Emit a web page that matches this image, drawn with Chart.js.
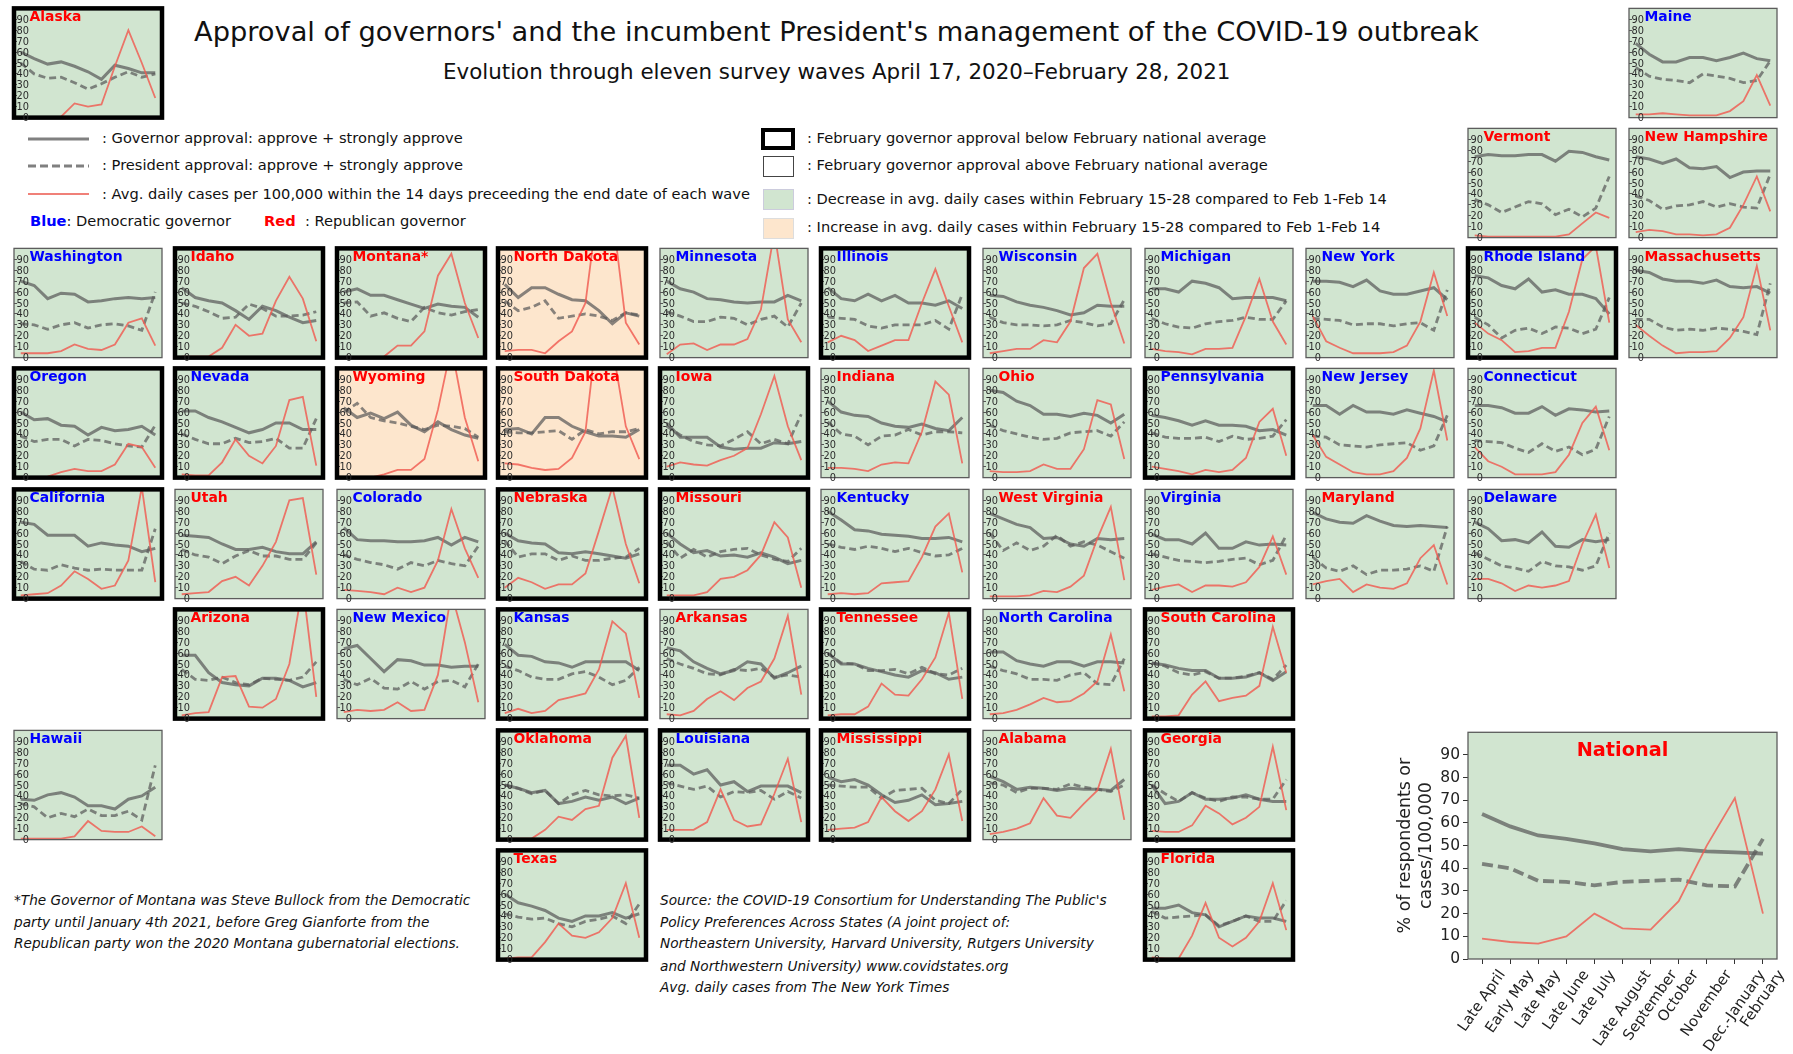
<!DOCTYPE html>
<html>
<head>
<meta charset="utf-8">
<title>Approval of governors and the President, COVID-19</title>
<script src="https://cdn.jsdelivr.net/npm/chart.js@4/dist/chart.umd.min.js"></script>
<style>
  html, body { margin: 0; padding: 0; background: #fff; }
  body { position: relative; width: 1793px; height: 1054px; overflow: hidden; font-family: "DejaVu Sans", sans-serif; color: #111; filter: blur(0.45px); }
  canvas { position: absolute; }
  .t { position: absolute; white-space: nowrap; transform: translateY(-50%); font-size: 14.63px; }
  .note { font-style: italic; font-size: 13.68px; }
  .sw { position: absolute; box-sizing: border-box; }
  svg.key { position: absolute; left: 20px; top: 130px; }
</style>
</head>
<body>
<div class="t" style="left:194px;top:31px;font-size:27.25px">Approval of governors' and the incumbent President's management of the COVID-19 outbreak</div>
<div class="t" style="left:443px;top:71px;font-size:21.4px">Evolution through eleven survey waves April 17, 2020–February 28, 2021</div>

<svg class="key" width="80" height="75">
  <line x1="8" x2="69" y1="9" y2="9" stroke="#808080" stroke-width="3"/>
  <line x1="8" x2="69" y1="36" y2="36" stroke="#808080" stroke-width="3" stroke-dasharray="8 4"/>
  <line x1="8" x2="69" y1="64" y2="64" stroke="#f08078" stroke-width="2"/>
</svg>
<div class="t" style="left:102px;top:137px">: Governor approval: approve + strongly approve</div>
<div class="t" style="left:102px;top:164px">: President approval: approve + strongly approve</div>
<div class="t" style="left:102px;top:193px">: Avg. daily cases per 100,000 within the 14 days preceeding the end date of each wave</div>
<div class="t" style="left:30px;top:220px"><b style="color:#00f">Blue</b>: Democratic governor</div>
<div class="t" style="left:264px;top:220px"><b style="color:#f00">Red</b>&nbsp; : Republican governor</div>

<div class="sw" style="left:761px;top:128px;width:34px;height:22px;border:4.5px solid #000"></div>
<div class="sw" style="left:763px;top:156px;width:31px;height:21px;border:1.3px solid #444"></div>
<div class="sw" style="left:763px;top:189px;width:31px;height:21px;background:#d1e5d0;border:1px solid #ccd"></div>
<div class="sw" style="left:763px;top:218px;width:31px;height:21px;background:#fde6cd;border:1px solid #ddd"></div>
<div class="t" style="left:807px;top:137px">: February governor approval below February national average</div>
<div class="t" style="left:807px;top:164px">: February governor approval above February national average</div>
<div class="t" style="left:807px;top:198px">: Decrease in avg. daily cases within February 15-28 compared to Feb 1-Feb 14</div>
<div class="t" style="left:807px;top:226px">: Increase in avg. daily cases within February 15-28 compared to Feb 1-Feb 14</div>

<div class="t note" style="left:14px;top:900px">*The Governor of Montana was Steve Bullock from the Democratic</div>
<div class="t note" style="left:14px;top:922px">party until January 4th 2021, before Greg Gianforte from the</div>
<div class="t note" style="left:14px;top:943px">Republican party won the 2020 Montana gubernatorial elections.</div>

<div class="t note" style="left:660px;top:900px">Source: the COVID-19 Consortium for Understanding The Public's</div>
<div class="t note" style="left:660px;top:922px">Policy Preferences Across States (A joint project of:</div>
<div class="t note" style="left:660px;top:943px">Northeastern University, Harvard University, Rutgers University</div>
<div class="t note" style="left:660px;top:966px">and Northwestern University) www.covidstates.org</div>
<div class="t note" style="left:660px;top:987px">Avg. daily cases from The New York Times</div>

<script>
// survey waves and axis ticks
const waves = ['Late April', 'Early May', 'Late May', 'Late June', 'Late July', 'Late August', 'September', 'October', 'November', 'Dec.-January', 'February'];
const yTicks = [0, 10, 20, 30, 40, 50, 60, 70, 80, 90];

const nationalGovernor = [64, 58.5, 54.5, 53, 51, 48.5, 47.5, 48.5, 47.5, 47, 46.5];
const nationalPresident = [42, 40, 34.5, 34, 32.5, 34, 34.5, 35, 32.5, 32, 53];
const nationalCases = [9, 7.5, 6.8, 10, 20, 13.5, 13, 25.5, 50, 71, 20];

const states = ['Alaska', 'Maine', 'Vermont', 'New Hampshire',
  'Washington', 'Idaho', 'Montana*', 'North Dakota', 'Minnesota', 'Illinois', 'Wisconsin', 'Michigan', 'New York', 'Rhode Island', 'Massachusetts',
  'Oregon', 'Nevada', 'Wyoming', 'South Dakota', 'Iowa', 'Indiana', 'Ohio', 'Pennsylvania', 'New Jersey', 'Connecticut',
  'California', 'Utah', 'Colorado', 'Nebraska', 'Missouri', 'Kentucky', 'West Virginia', 'Virginia', 'Maryland', 'Delaware',
  'Arizona', 'New Mexico', 'Kansas', 'Arkansas', 'Tennessee', 'North Carolina', 'South Carolina',
  'Hawaii', 'Oklahoma', 'Louisiana', 'Mississippi', 'Alabama', 'Georgia',
  'Texas', 'Florida'];

const governor = [
  [60,54,49,51,47,42,35,48,45,41,41], [68,58,51,51,55,55,52,55,59,54,52], [74,76,75,75,76,76,70,79,78,74,71], [74,72,68,72,64,63,65,55,60,61,61],
  [70,66,54,59,58,51,52,54,55,54,55], [64,55,52,50,43,35,47,43,37,32,34], [60,63,57,57,53,49,45,49,47,46,37], [67,55,64,64,58,53,52,43,31,41,38], [70,63,60,54,53,51,50,51,51,57,52], [64,54,52,58,52,57,50,50,48,52,45], [57,56,51,48,46,43,39,41,48,47,47], [63,63,60,70,68,64,54,55,55,55,52], [70,70,69,65,71,61,58,58,61,64,53], [75,73,66,63,72,60,62,58,58,54,40], [80,78,72,70,70,68,71,65,64,65,59],
  [60,53,54,48,47,39,46,43,44,47,39], [61,61,55,51,46,41,44,50,50,44,44], [64,55,59,54,60,48,42,51,44,39,36], [44,45,40,55,55,47,42,38,38,37,44], [50,37,37,37,28,26,27,27,32,31,33], [70,60,57,56,50,47,46,49,45,43,55], [80,78,70,66,58,58,56,59,57,50,58], [57,55,52,48,52,48,48,47,43,44,39], [66,66,58,66,60,60,58,62,59,56,51], [66,66,64,59,59,65,57,63,62,60,61],
  [70,68,58,58,58,48,51,49,48,43,46], [58,57,56,50,45,45,47,43,41,41,52], [65,54,53,53,52,52,53,56,49,56,52], [60,53,51,50,42,41,43,41,39,37,41], [60,50,42,44,39,40,38,42,38,32,35], [80,72,63,62,59,58,57,55,55,56,52], [78,73,68,65,55,56,50,48,55,54,55], [59,54,54,50,60,46,46,52,49,50,49], [79,73,70,69,76,71,67,66,67,66,65], [70,64,53,54,51,61,48,47,54,52,54],
  [58,58,42,33,31,30,37,37,35,29,33], [64,67,55,43,54,53,49,49,47,48,48], [68,58,57,52,51,47,52,52,52,52,44], [65,62,52,46,41,44,52,50,37,42,48], [60,50,50,46,43,40,38,44,42,36,38], [61,61,53,50,48,52,52,48,52,52,51], [51,49,46,44,44,37,37,38,42,35,43],
  [37,36,41,43,39,31,31,28,37,40,48], [50,47,43,45,33,35,39,36,39,33,38], [68,68,60,64,50,53,44,49,49,49,43], [57,53,55,50,41,34,36,41,32,33,35], [58,53,46,48,47,45,47,46,46,45,55], [50,33,35,43,37,37,38,41,37,35,35],
  [60,52,49,45,38,35,40,40,43,38,42], [47,47,50,43,41,30,35,40,38,38,35]
];

const president = [
  [50,40,36,37,32,26,31,37,42,37,40], [46,38,35,34,32,40,38,36,32,34,52], [35,30,23,28,33,31,21,26,19,27,56], [38,34,26,29,30,33,28,31,28,27,58],
  [31,30,26,30,32,27,30,31,29,25,60], [50,47,42,36,37,49,45,38,38,39,42], [50,51,38,41,36,33,46,41,39,42,44], [52,43,46,52,36,38,40,38,34,41,39], [42,38,33,33,37,36,30,35,38,28,50], [37,36,35,29,27,30,30,30,34,26,58], [37,32,30,30,29,30,34,32,29,31,53], [36,31,28,27,31,33,34,37,35,35,52], [36,35,34,30,31,31,29,31,32,25,62], [37,30,18,25,27,22,28,27,22,26,55], [35,35,28,25,26,25,27,26,24,21,68],
  [38,33,35,35,29,35,34,31,29,28,48], [40,35,31,31,36,32,33,36,27,27,54], [60,68,55,52,50,47,44,48,47,45,37], [42,41,41,42,43,35,44,40,42,42,45], [47,39,33,30,29,35,42,31,35,31,58], [51,40,38,30,38,39,44,39,42,42,41], [48,43,40,37,35,36,41,42,43,38,51], [41,37,36,36,37,33,38,35,36,38,53], [38,37,30,29,28,30,31,32,25,29,57], [34,33,32,27,23,31,24,28,21,26,56],
  [34,27,26,31,28,26,27,26,26,26,64], [45,40,38,32,39,44,39,39,36,36,51], [40,36,33,31,27,33,30,35,32,30,48], [53,38,41,41,35,39,35,35,37,38,46], [52,37,45,38,43,45,46,40,36,34,46], [50,47,45,48,46,43,46,42,39,40,46], [60,44,51,44,48,58,48,52,49,43,37], [41,38,35,34,33,34,36,37,31,35,58], [38,28,25,30,22,26,26,27,30,25,66], [42,36,30,28,25,34,30,29,26,30,60],
  [45,36,35,38,33,31,37,36,35,38,52], [36,31,37,28,27,34,27,34,35,29,50], [48,44,38,36,36,41,43,38,31,35,47], [55,50,46,41,40,45,44,46,38,40,38], [60,51,50,44,44,45,41,47,41,40,46], [48,44,41,36,36,35,40,42,32,31,55], [51,48,42,40,43,37,37,39,42,36,49],
  [33,30,20,24,21,28,22,22,26,18,68], [50,47,42,45,33,41,45,41,40,41,38], [52,49,46,49,39,44,43,45,37,44,38], [50,49,48,48,38,45,46,47,36,33,46], [52,50,43,47,47,46,51,48,46,44,50], [50,42,35,43,38,35,39,39,37,37,55],
  [42,39,37,38,33,30,35,37,40,33,51], [44,38,39,40,41,31,35,40,35,35,54]
];

const dailyCases = [
  [0,0,0,1,13,10,12,47,80,50,18], [3,3,4,3,2,2,2,6,15,39,11], [2,1,1,1,1,1,1,3,13,23,18], [5,7,6,3,3,2,3,9,30,56,24],
  [4,4,4,6,12,8,7,12,32,36,11], [1,1,1,9,30,20,22,52,74,54,15], [0,0,0,1,11,11,24,75,95,50,18], [6,7,7,4,15,24,50,146,133,32,12], [3,12,13,7,12,12,17,44,115,35,14], [14,20,16,6,11,16,16,50,81,47,14], [4,6,8,8,16,14,33,82,95,50,13], [8,6,5,3,8,8,9,38,72,33,12], [38,15,9,4,4,4,5,11,33,78,38], [32,22,16,5,6,9,9,42,90,102,32], [30,20,11,4,5,5,6,18,37,84,25],
  [0,0,1,5,8,6,6,12,31,28,9], [3,2,2,14,35,20,13,29,71,74,11], [0,0,0,3,7,7,17,62,120,55,15], [13,12,9,7,8,18,42,150,120,47,17], [10,14,12,11,16,20,27,58,93,47,16], [9,9,8,6,12,14,13,42,88,76,13], [6,5,5,6,12,8,8,26,71,67,17], [10,8,6,3,7,5,7,18,51,63,20], [39,19,12,5,3,3,6,18,45,98,34], [28,15,10,3,3,3,5,21,50,65,25],
  [3,4,5,12,25,18,9,12,35,102,15], [4,5,6,16,20,12,30,52,90,92,22], [8,7,6,4,10,6,10,35,82,46,19], [10,19,15,9,13,13,23,62,102,50,14], [3,3,3,6,18,20,26,40,70,56,10], [4,5,4,5,14,15,16,38,66,78,24], [2,2,2,3,7,6,11,21,55,84,17], [8,11,13,6,12,12,11,15,29,57,22], [13,16,18,6,13,10,9,14,37,49,13], [18,18,14,7,12,10,12,16,50,77,28],
  [3,5,6,38,39,11,10,18,50,122,20], [6,8,7,8,15,7,8,40,115,70,15], [5,9,5,7,17,20,23,45,89,78,19], [4,3,7,18,25,17,28,34,55,94,22], [3,4,4,11,32,22,21,36,56,97,18], [4,5,8,13,19,15,16,23,34,77,25], [2,2,3,22,34,16,19,21,30,84,42],
  [1,1,1,1,3,17,8,7,7,12,3], [1,1,1,9,21,18,28,31,75,95,20], [9,9,9,16,46,18,12,14,42,74,16], [9,10,11,16,39,26,17,26,46,78,17], [5,7,10,15,38,22,20,33,45,83,18], [8,7,7,13,31,24,14,20,30,85,27],
  [1,2,2,16,33,22,20,25,38,70,20], [2,1,1,22,52,20,12,20,35,70,27]
];

const republicans = ['Alaska', 'Vermont', 'New Hampshire', 'Idaho', 'Montana*', 'North Dakota', 'Massachusetts', 'Wyoming', 'South Dakota', 'Iowa', 'Indiana', 'Ohio', 'Utah', 'Nebraska', 'Missouri', 'West Virginia', 'Maryland', 'Arizona', 'Arkansas', 'Tennessee', 'South Carolina', 'Oklahoma', 'Mississippi', 'Alabama', 'Georgia', 'Texas', 'Florida'];
const belowNational = ['Alaska', 'Idaho', 'Montana*', 'North Dakota', 'Illinois', 'Rhode Island', 'Oregon', 'Nevada', 'Wyoming', 'South Dakota', 'Iowa', 'Pennsylvania', 'California', 'Nebraska', 'Missouri', 'Arizona', 'Kansas', 'Tennessee', 'South Carolina', 'Oklahoma', 'Louisiana', 'Mississippi', 'Georgia', 'Texas', 'Florida'];
const casesIncreased = ['North Dakota', 'Wyoming', 'South Dakota'];

// layout: [column, row] of each state on the grid
const colX = [14, 175, 337, 498, 660, 821, 983, 1145, 1306, 1468, 1629];
const rowY = [8, 128, 248, 368, 489, 609, 730, 850];
const cells = [[0,0],[10,0],[9,1],[10,1],
  [0,2],[1,2],[2,2],[3,2],[4,2],[5,2],[6,2],[7,2],[8,2],[9,2],[10,2],
  [0,3],[1,3],[2,3],[3,3],[4,3],[5,3],[6,3],[7,3],[8,3],[9,3],
  [0,4],[1,4],[2,4],[3,4],[4,4],[5,4],[6,4],[7,4],[8,4],[9,4],
  [1,5],[2,5],[3,5],[4,5],[5,5],[6,5],[7,5],
  [0,6],[3,6],[4,6],[5,6],[6,6],[7,6],
  [3,7],[7,7]];
const PANEL_W = 148, PANEL_H = 110, PAD = 8;

const GREEN = '#d1e5d0', ORANGE = '#fde6cd';

Chart.defaults.font.family = '"DejaVu Sans", sans-serif';

const panelPlugin = {
    id: 'panel',
    beforeDraw(chart, args, opts) {
        const a = chart.chartArea;
        chart.ctx.fillStyle = opts.background;
        chart.ctx.fillRect(a.left, a.top, a.width, a.height);
    },
    afterDatasetsDraw(chart, args, opts) {
        const a = chart.chartArea, ctx = chart.ctx;
        ctx.save();
        ctx.strokeStyle = opts.frameColor;
        ctx.lineWidth = opts.frameWidth;
        ctx.strokeRect(a.left, a.top, a.width, a.height);
        ctx.restore();
    },
    afterDraw(chart, args, opts) {
        const a = chart.chartArea, ctx = chart.ctx;
        ctx.save();
        ctx.font = 'bold ' + opts.titleSize + 'px "DejaVu Sans"';
        ctx.fillStyle = opts.titleColor;
        ctx.textAlign = opts.titleAlign;
        const x = opts.titleAlign === 'center' ? (a.left + a.right) / 2 : a.left + 15.5;
        ctx.fillText(opts.title, x, a.top + opts.titleDrop);
        ctx.restore();
    }
};

// matplotlib style rotated labels: centred under the tick instead of ending at it
const rotatedTicksPlugin = {
    id: 'rotatedTicks',
    afterDraw(chart) {
        const xs = chart.scales.x, ctx = chart.ctx, angle = 55 * Math.PI / 180;
        ctx.save();
        ctx.font = '14.8px "DejaVu Sans"';
        ctx.fillStyle = '#222';
        ctx.textAlign = 'center';
        ctx.textBaseline = 'middle';
        waves.forEach((label, i) => {
            const w = ctx.measureText(label).width;
            const boxH = w * Math.sin(angle) + 14 * Math.cos(angle);
            ctx.save();
            ctx.translate(xs.getPixelForTick(i), chart.chartArea.bottom + 9 + boxH / 2);
            ctx.rotate(-angle);
            ctx.fillText(label, 0, 0);
            ctx.restore();
        });
        ctx.restore();
    }
};

function makeDatasets(gov, pres, cases, big) {
    return [
        { label: 'Governor', data: gov, borderColor: 'rgba(90,90,90,0.72)', borderWidth: big ? 3.8 : 3, order: 3 },
        { label: 'President', data: pres, borderColor: 'rgba(90,90,90,0.72)', borderWidth: big ? 3.8 : 2.8, borderDash: big ? [11, 5] : [7, 4], order: 2 },
        { label: 'Cases', data: cases, borderColor: 'rgba(240,90,80,0.82)', borderWidth: 1.8, order: 1 }
    ];
}

function keepTicks(scale) {
    scale.ticks = yTicks.map(v => ({ value: v }));
}

function addCanvas(left, top, width, height) {
    const canvas = document.createElement('canvas');
    canvas.width = width;
    canvas.height = height;
    canvas.style.left = left + 'px';
    canvas.style.top = top + 'px';
    canvas.style.width = width + 'px';
    canvas.style.height = height + 'px';
    document.body.appendChild(canvas);
    return canvas.getContext('2d');
}

function createPanel(i) {
    const name = states[i];
    const left = colX[cells[i][0]], top = rowY[cells[i][1]];
    const thick = belowNational.includes(name);
    const ctx = addCanvas(left - PAD, top - PAD, PANEL_W + 2 * PAD, PANEL_H + 2 * PAD);
    new Chart(ctx, {
        type: 'line',
        data: { labels: waves, datasets: makeDatasets(governor[i], president[i], dailyCases[i], false) },
        options: {
            responsive: false,
            animation: false,
            layout: { autoPadding: false, padding: PAD },
            elements: { point: { radius: 0 }, line: { tension: 0 } },
            scales: {
                x: { display: false, offset: true },
                y: {
                    min: 0, max: 100,
                    afterBuildTicks: keepTicks,
                    afterFit: s => { s.width = 0; },
                    border: { display: false },
                    grid: { drawOnChartArea: false, tickLength: -3, tickColor: '#555', tickWidth: 1 },
                    ticks: { z: 1, mirror: true, crossAlign: 'far', padding: 2.5, labelOffset: 1, color: '#2a2a2a', font: { size: 9.8 }, autoSkip: false }
                }
            },
            plugins: {
                legend: { display: false },
                tooltip: { enabled: false },
                panel: {
                    background: casesIncreased.includes(name) ? ORANGE : GREEN,
                    frameColor: thick ? '#000' : '#5c5c5c',
                    frameWidth: thick ? 4.5 : 1.3,
                    title: name,
                    titleColor: republicans.includes(name) ? '#f00' : '#00f',
                    titleSize: 13.9, titleAlign: 'left', titleDrop: 12.5
                }
            }
        },
        plugins: [panelPlugin]
    });
}

function createNational() {
    const ctx = addCanvas(1395, 720, 398, 334);
    new Chart(ctx, {
        type: 'line',
        data: { labels: waves, datasets: makeDatasets(nationalGovernor, nationalPresident, nationalCases, true) },
        options: {
            responsive: false,
            animation: false,
            layout: { autoPadding: false, padding: { left: 0, top: 10, right: 16, bottom: 90 } },
            elements: { point: { radius: 0 }, line: { tension: 0 } },
            scales: {
                x: {
                    offset: true,
                    afterFit: s => { s.height = 5; },
                    border: { display: false },
                    grid: { drawOnChartArea: false, tickLength: 5, tickColor: '#333', tickWidth: 1 },
                    ticks: { display: false, autoSkip: false }
                },
                y: {
                    min: 0, max: 100,
                    afterBuildTicks: keepTicks,
                    afterFit: s => { s.width = 73; },
                    border: { display: false },
                    grid: { drawOnChartArea: false, tickLength: 5, tickColor: '#333', tickWidth: 1 },
                    ticks: { padding: 3, color: '#222', font: { size: 15.5 }, autoSkip: false },
                    title: { display: true, text: ['% of respondents or', 'cases/100,000'], color: '#222', font: { size: 17.4 }, padding: { top: 0, bottom: 0 } }
                }
            },
            plugins: {
                legend: { display: false },
                tooltip: { enabled: false },
                panel: {
                    background: GREEN, frameColor: '#5c5c5c', frameWidth: 1.3,
                    title: 'National', titleColor: '#f00',
                    titleSize: 19.3, titleAlign: 'center', titleDrop: 24
                }
            }
        },
        plugins: [panelPlugin, rotatedTicksPlugin]
    });
}

states.forEach((name, i) => createPanel(i));
createNational();
</script>
</body>
</html>
